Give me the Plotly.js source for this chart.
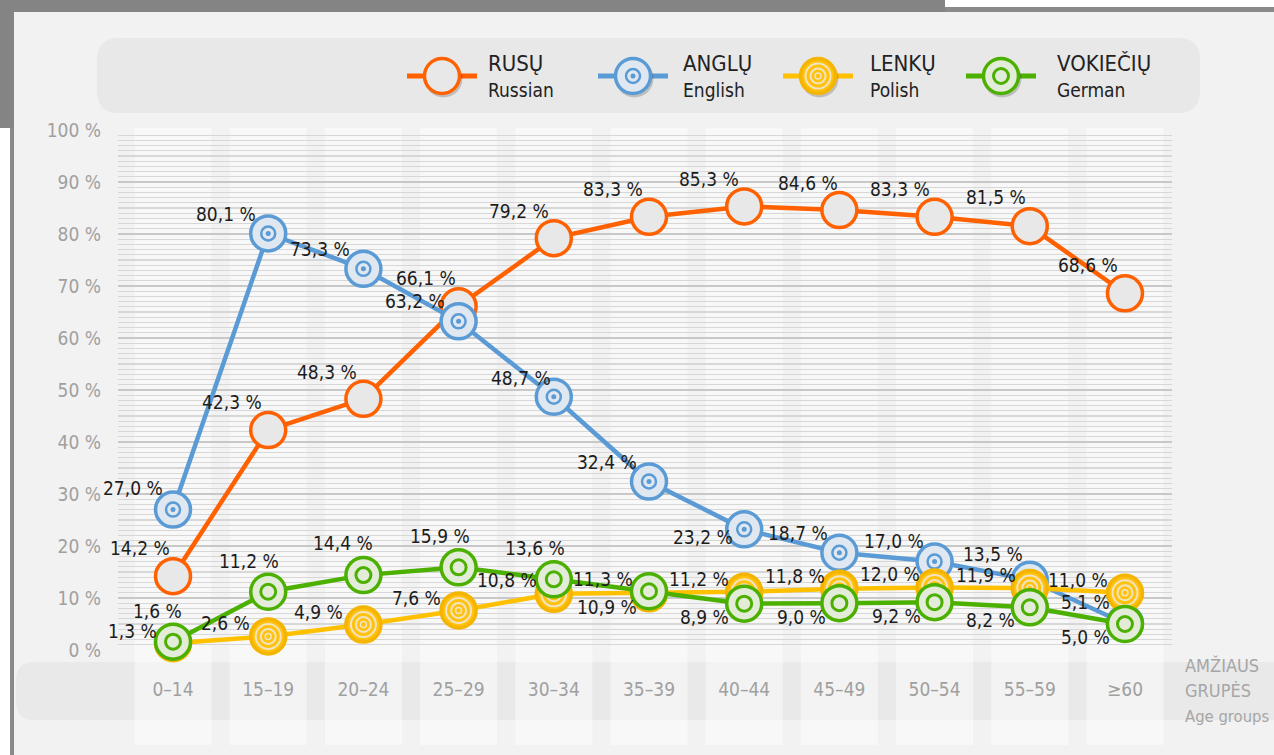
<!DOCTYPE html>
<html><head><meta charset="utf-8">
<script src="https://cdn.plot.ly/plotly-3.0.1.min.js"></script>
<style>html,body{margin:0;padding:0;background:#fff;}#chart{width:1274px;height:755px;}</style>
</head><body><div id="chart"></div>
<script>
// ---------- DATA ----------
const ageGroups = ['0–14','15–19','20–24','25–29','30–34','35–39','40–44','45–49','50–54','55–59','≥60'];
const russian = [14.2, 42.3, 48.3, 66.1, 79.2, 83.3, 85.3, 84.6, 83.3, 81.5, 68.6];
const english = [27.0, 80.1, 73.3, 63.2, 48.7, 32.4, 23.2, 18.7, 17.0, 13.5, 5.1];
const polish  = [1.3, 2.6, 4.9, 7.6, 10.8, 10.9, 11.2, 11.8, 12.0, 11.9, 11.0];
const german  = [1.6, 11.2, 14.4, 15.9, 13.6, 11.3, 8.9, 9.0, 9.2, 8.2, 5.0];
const namesLt = ['RUSŲ','ANGLŲ','LENKŲ','VOKIEČIŲ'];
const namesEn = ['Russian','English','Polish','German'];
const yTicks = [0,10,20,30,40,50,60,70,80,90,100];
const axisTitleLines = ['AMŽIAUS','GRUPĖS','Age groups'];

// ---------- STYLE ----------
const W = 1274, H = 755;
const FONT = '"Noto Sans Condensed", "DejaVu Sans Condensed", "Liberation Sans Narrow", sans-serif';
const C = {
  ru: '#ff6000', en: '#5b9bd5', pl: '#ffc000', de: '#4cb000',
  ruFill: '#e8e8e8', enFill: '#dfe7f0', plFill: '#ffc20e', deFill: '#e3ecd8', plRing: '#f2e4c2'
};
// label offsets in pixels [dx, dy] relative to each marker
const offRu = [[-33,-28],[-36,-28],[-36,-27],[-33,-28],[-35,-27],[-36,-28],[-35,-27],[-31,-27],[-35,-28],[-34,-29],[-37,-28]];
const offEn = [[-40,-22],[-42,-19],[-43,-20],[-44,-20],[-33,-19],[-42,-20],[-41,8],[-41,-20],[-41,-21],[-37,-26],[-39,-21]];
const offPl = [[-41,-12],[-43,-13],[-45,-13],[-42,-12],[-47,-14],[-42,14],[-45,-13],[-44,-13],[-45,-14],[-44,-13],[-47,-13]];
const offDe = [[-16,-31],[-19,-31],[-20,-32],[-19,-31],[-19,-31],[-46,-12],[-40,13],[-38,14],[-38,14],[-39,13],[-39,13]];

const fx = x => x / W;
const fy = y => 1 - y / H;
const fmt = v => v.toFixed(1).replace('.', ',') + ' %';

function rect(x0,y0,x1,y1,color){
  return {type:'rect', xref:'paper', yref:'paper', x0:fx(x0), x1:fx(x1), y0:fy(y1), y1:fy(y0),
    fillcolor:color, line:{width:0}, layer:'below'};
}
function roundRect(x0,y0,x1,y1,r,color){
  const p = (x,y)=> fx(x).toFixed(5)+','+fy(y).toFixed(5);
  const path = 'M'+p(x0+r,y0)+' L'+p(x1-r,y0)+' Q'+p(x1,y0)+' '+p(x1,y0+r)+
    ' L'+p(x1,y1-r)+' Q'+p(x1,y1)+' '+p(x1-r,y1)+' L'+p(x0+r,y1)+' Q'+p(x0,y1)+' '+p(x0,y1-r)+
    ' L'+p(x0,y0+r)+' Q'+p(x0,y0)+' '+p(x0+r,y0)+' Z';
  return {type:'path', xref:'paper', yref:'paper', path:path, fillcolor:color, line:{width:0}, layer:'below'};
}
function circ(cx,cy,r,fill,lineColor,lw){
  return {type:'circle', xref:'paper', yref:'paper', x0:fx(cx-r), x1:fx(cx+r), y0:fy(cy+r), y1:fy(cy-r),
    fillcolor:fill, line:{color:lineColor||'rgba(0,0,0,0)', width:lw||0}, layer:'above'};
}
function seg(x0,x1,y,color,w){
  return {type:'line', xref:'paper', yref:'paper', x0:fx(x0), x1:fx(x1), y0:fy(y), y1:fy(y),
    line:{color:color, width:w}, layer:'above'};
}

// ---------- SHAPES (decoration) ----------
const shapes = [];
shapes.push(rect(0,0,945,12,'#848484'));
shapes.push(rect(945,0,1274,7,'#ffffff'));
shapes.push(rect(945,7,1274,12,'#8a8a8a'));
shapes.push(rect(0,0,14,128,'#848484'));
shapes.push(rect(0,128,10,755,'#ffffff'));
shapes.push(rect(10,128,14,755,'#8a8a8a'));
shapes.push(roundRect(97,38,1200,113,22,'#e8e8e8'));
shapes.push(roundRect(16,662,1300,720,18,'#e9e9e9'));
ageGroups.forEach((g,i)=>{
  shapes.push({type:'rect', xref:'x', yref:'paper', x0:i-0.405, x1:i+0.405, y0:fy(745), y1:fy(128),
    fillcolor:'rgba(255,255,255,0.45)', line:{width:0}, layer:'below'});
});

// legend icons
const legendIcons = [
  {cx:442, c:C.ru, fill:C.ruFill, kind:'ru'},
  {cx:633, c:C.en, fill:C.enFill, kind:'en'},
  {cx:818, c:C.pl, fill:C.plFill, kind:'pl'},
  {cx:1001, c:C.de, fill:C.deFill, kind:'de'}
];
const LY = 76;
legendIcons.forEach(ic=>{
  shapes.push(seg(ic.cx-35, ic.cx+35, LY, ic.c, 5));
  shapes.push(circ(ic.cx+1.5, LY+2.5, 19, 'rgba(0,0,0,0.18)'));
  shapes.push(circ(ic.cx, LY, 17.5, ic.fill, ic.kind==='pl' ? '#f5b400' : ic.c, 3.5));
  if(ic.kind==='en'){
    shapes.push(circ(ic.cx, LY, 7, 'rgba(0,0,0,0)', ic.c, 2.5));
    shapes.push(circ(ic.cx, LY, 2.5, ic.c, ic.c, 0));
  } else if(ic.kind==='de'){
    shapes.push(circ(ic.cx, LY, 7.5, 'rgba(0,0,0,0)', ic.c, 3));
  } else if(ic.kind==='pl'){
    shapes.push(circ(ic.cx, LY, 12.5, 'rgba(0,0,0,0)', C.plRing, 2));
    shapes.push(circ(ic.cx, LY, 7.5, 'rgba(0,0,0,0)', C.plRing, 2));
    shapes.push(circ(ic.cx, LY, 3, 'rgba(0,0,0,0)', C.plRing, 1.5));
  }
});

// ---------- ANNOTATIONS ----------
const annotations = [];
const legendTextX = [486, 681, 868, 1055];
namesLt.forEach((n,i)=>{
  annotations.push({xref:'paper', yref:'paper', x:fx(legendTextX[i]), y:fy(63), xanchor:'left', yanchor:'middle',
    text:n, showarrow:false, font:{family:FONT, size:22, color:'#222222'}});
  annotations.push({xref:'paper', yref:'paper', x:fx(legendTextX[i]), y:fy(90), xanchor:'left', yanchor:'middle',
    text:namesEn[i], showarrow:false, font:{family:FONT, size:19, color:'#222222'}});
});
const axisTitleY = [665, 690, 716];
axisTitleLines.forEach((t,i)=>{
  annotations.push({xref:'paper', yref:'paper', x:fx(1183), y:fy(axisTitleY[i]), xanchor:'left', yanchor:'middle',
    text:t, showarrow:false, font:{family:FONT, size:i<2 ? 18 : 16.5, color:'#a6a6a6'}});
});
function addLabels(vals, offs){
  vals.forEach((v,i)=>{
    annotations.push({xref:'x', yref:'y', x:ageGroups[i], y:v, text:fmt(v), showarrow:false,
      xshift:offs[i][0], yshift:-offs[i][1], xanchor:'center', yanchor:'middle',
      font:{family:FONT, size:19, color:'#1c1c1c'}});
  });
}
addLabels(russian, offRu);
addLabels(english, offEn);
addLabels(polish, offPl);
addLabels(german, offDe);

// ---------- TRACES ----------
const traces = [];
function series(name, vals, color, fill, borderColor, rings){
  traces.push({type:'scatter', mode:'lines+markers', name:name, x:ageGroups, y:vals, cliponaxis:false,
    line:{color:color, width:4.5},
    marker:{size:35, color:fill, line:{color:borderColor, width:3.5}}, showlegend:false, hoverinfo:'x+y'});
  rings.forEach(r=>{
    traces.push({type:'scatter', mode:'markers', x:ageGroups, y:vals, cliponaxis:false, showlegend:false, hoverinfo:'skip',
      marker:{size:r.size, symbol:r.symbol, color:r.color, line:{color:r.color, width:r.width}}});
  });
}
series('Russian', russian, C.ru, C.ruFill, C.ru, []);
series('English', english, C.en, C.enFill, C.en, [
  {size:14, symbol:'circle-open', color:C.en, width:2.5},
  {size:5, symbol:'circle', color:C.en, width:0}
]);
series('Polish', polish, C.pl, C.plFill, '#f5b400', [
  {size:25, symbol:'circle-open', color:C.plRing, width:2},
  {size:15, symbol:'circle-open', color:C.plRing, width:2},
  {size:6, symbol:'circle-open', color:C.plRing, width:1.5}
]);
series('German', german, C.de, C.deFill, C.de, [
  {size:15, symbol:'circle-open', color:C.de, width:3}
]);

// ---------- LAYOUT ----------
const layout = {
  width:W, height:H,
  margin:{l:0, r:0, t:0, b:0, pad:0},
  paper_bgcolor:'#f2f2f2', plot_bgcolor:'rgba(0,0,0,0)',
  showlegend:false,
  xaxis:{type:'category', domain:[fx(118), fx(1172)], range:[-0.578, 10.494], anchor:'y',
    showgrid:false, zeroline:false, showline:false, ticks:'', ticklabelstandoff:26,
    tickfont:{family:FONT, size:19, color:'#a0a0a0'}, fixedrange:true},
  yaxis:{domain:[fy(650), fy(130)], range:[0,100], anchor:'x',
    tickvals:yTicks, ticktext:yTicks.map(v=>v+' %'), ticks:'', ticklabelstandoff:16,
    showgrid:true, gridcolor:'#c8c8c8', gridwidth:2.5, zeroline:false, showline:false,
    minor:{dtick:1, showgrid:true, gridcolor:'#d7d7d7', gridwidth:1.3},
    tickfont:{family:FONT, size:19, color:'#a0a0a0'}, fixedrange:true},
  shapes:shapes,
  annotations:annotations
};
Plotly.newPlot('chart', traces, layout, {displayModeBar:false, staticPlot:true});
</script>
</body></html>
